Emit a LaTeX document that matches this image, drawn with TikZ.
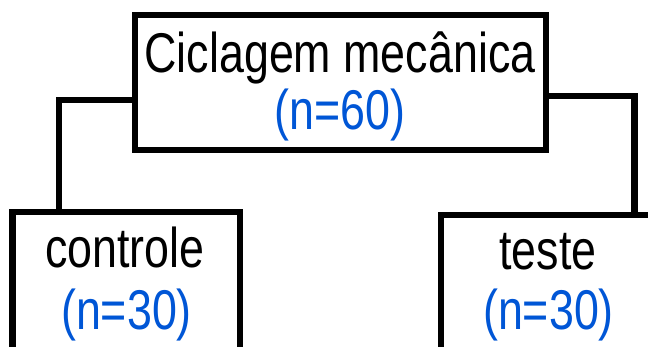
\documentclass[tikz,border=0pt]{standalone}
\usepackage{fontspec}
\setmainfont{Liberation Sans}[FakeStretch=0.80]
\definecolor{nblue}{RGB}{0,86,214}
\begin{document}
\begin{tikzpicture}[x=1pt,y=-1pt,
  boxline/.style={draw=black,line width=6.8pt,line join=miter},
  lbl/.style={inner sep=0pt,anchor=base,font=\fontsize{56}{60}\selectfont},
  cnt/.style={lbl,text=nblue}]
\clip (0,0) rectangle (648,347);
\fill[white] (0,0) rectangle (648,347);
% boxes
\node[boxline,minimum width=411pt,minimum height=135pt,inner sep=0pt] (top) at (340.5,82.5) {};
\node[boxline,minimum width=227.5pt,minimum height=160pt,inner sep=0pt] (left) at (126.25,292) {};
\node[boxline,minimum width=214pt,minimum height=160pt,inner sep=0pt] (right) at (548,295) {};
% texts
\node[lbl] (t1) at (340,73) {Ciclagem mecânica};
\node[cnt] (t2) at (340,130) {(n=60)};
\node[lbl] (l1) at (125,268) {controle};
\node[cnt] (l2) at (126.5,330) {(n=30)};
\node[lbl] (r1) at (548,270) {teste};
\node[cnt] (r2) at (548.5,330) {(n=30)};
% connectors
\coordinate (lj) at (59,100);
\coordinate (rj) at (634.5,96);
\draw[boxline] (top.west |- lj) -- (lj) -- (lj |- left.north);
\draw[boxline] (top.east |- rj) -- (rj) -- (rj |- right.north);
\end{tikzpicture}
\end{document}
